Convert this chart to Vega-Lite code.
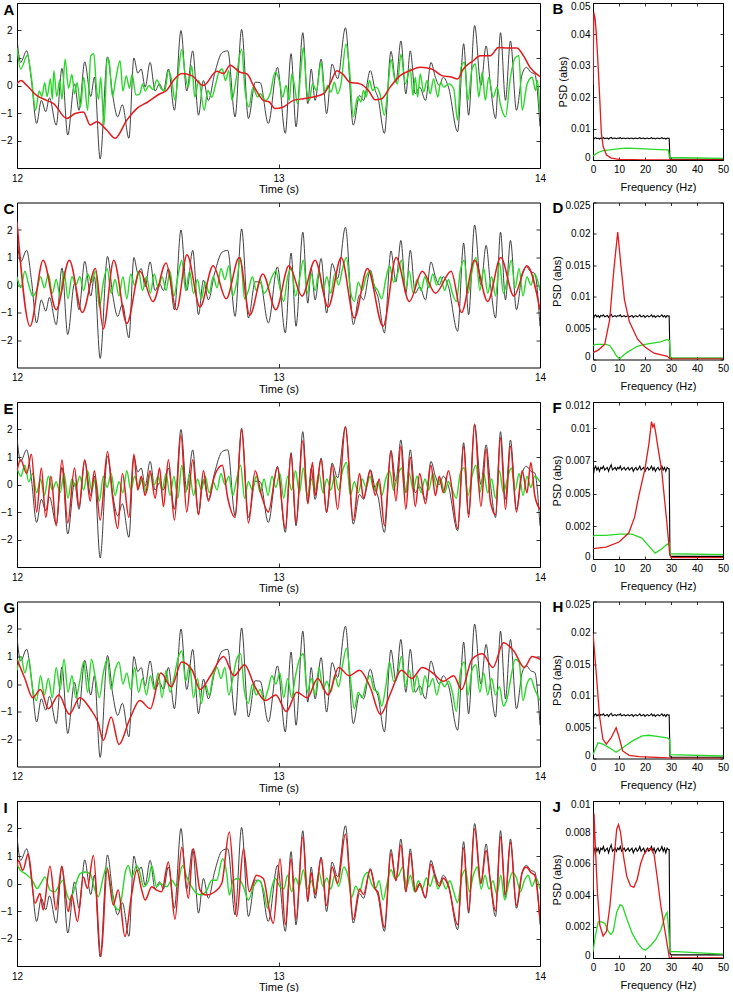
{
"$schema":"https://vega.github.io/schema/vega-lite/v6.json",
"padding":{"left":0,"top":0,"right":0,"bottom":0},
"background":"white",
"spacing":4.5,
"config":{"view":{"stroke":"#000","strokeWidth":1},"font":"Liberation Sans",
"axis":{"domain":false,"grid":false,"labelFlush":false,"labelOverlap":false,"labelFont":"Liberation Sans","labelFontSize":10,"labelColor":"#000","tickColor":"#000","tickWidth":0.8,"titleFont":"Liberation Sans","titleFontWeight":"normal","titleFontSize":11,"titleColor":"#000"}},
"datasets":{
"blk":[{"t":12.000,"v":1.71},{"t":12.014,"v":0.84},{"t":12.037,"v":1.26},{"t":12.055,"v":0.2},{"t":12.075,"v":-1.38},{"t":12.093,"v":-0.54},{"t":12.110,"v":-0.95},{"t":12.124,"v":-0.45},{"t":12.150,"v":-1.44},{"t":12.172,"v":0.62},{"t":12.194,"v":-1.80},{"t":12.220,"v":0.06},{"t":12.237,"v":-0.90},{"t":12.259,"v":0.86},{"t":12.282,"v":-0.40},{"t":12.296,"v":0.30},{"t":12.318,"v":-2.67},{"t":12.346,"v":1.04},{"t":12.366,"v":-0.36},{"t":12.385,"v":-1.14},{"t":12.403,"v":-0.70},{"t":12.428,"v":-1.92},{"t":12.447,"v":1.00},{"t":12.462,"v":0.45},{"t":12.475,"v":0.6},{"t":12.490,"v":-0.06},{"t":12.509,"v":0.84},{"t":12.528,"v":-0.2},{"t":12.545,"v":0.06},{"t":12.560,"v":-0.2},{"t":12.579,"v":0.60},{"t":12.602,"v":-0.90},{"t":12.627,"v":2.00},{"t":12.649,"v":-0.20},{"t":12.672,"v":1.26},{"t":12.694,"v":-1.08},{"t":12.713,"v":0.18},{"t":12.732,"v":-0.54},{"t":12.755,"v":0.40},{"t":12.785,"v":1.20},{"t":12.806,"v":1.26},{"t":12.834,"v":-1.14},{"t":12.859,"v":2.04},{"t":12.885,"v":-1.20},{"t":12.911,"v":0.12},{"t":12.930,"v":0.10},{"t":12.961,"v":-1.38},{"t":12.996,"v":0.66},{"t":13.026,"v":-1.74},{"t":13.048,"v":1.16},{"t":13.067,"v":-1.50},{"t":13.093,"v":1.92},{"t":13.112,"v":-0.66},{"t":13.125,"v":0.60},{"t":13.140,"v":-0.54},{"t":13.163,"v":0.96},{"t":13.184,"v":-1.02},{"t":13.205,"v":0.78},{"t":13.226,"v":0.24},{"t":13.256,"v":2.10},{"t":13.286,"v":-1.44},{"t":13.310,"v":-0.36},{"t":13.325,"v":-0.54},{"t":13.351,"v":0.54},{"t":13.370,"v":-0.18},{"t":13.380,"v":-0.42},{"t":13.405,"v":-1.74},{"t":13.430,"v":1.24},{"t":13.449,"v":0.12},{"t":13.468,"v":1.62},{"t":13.487,"v":-0.30},{"t":13.504,"v":1.26},{"t":13.523,"v":-0.30},{"t":13.540,"v":-0.06},{"t":13.562,"v":-0.54},{"t":13.583,"v":0.84},{"t":13.600,"v":0.30},{"t":13.615,"v":0.00},{"t":13.630,"v":0.30},{"t":13.650,"v":-0.06},{"t":13.685,"v":-1.68},{"t":13.708,"v":1.52},{"t":13.727,"v":-1.08},{"t":13.750,"v":2.18},{"t":13.774,"v":0.00},{"t":13.794,"v":1.44},{"t":13.810,"v":0.06},{"t":13.830,"v":-1.20},{"t":13.849,"v":1.92},{"t":13.868,"v":-0.54},{"t":13.887,"v":1.62},{"t":13.910,"v":-0.90},{"t":13.932,"v":0.42},{"t":13.948,"v":0.66},{"t":13.965,"v":0.48},{"t":13.980,"v":0.42},{"t":14.000,"v":-1.50}],
"gA":[{"t":12.000,"v":1.38},{"t":12.014,"v":0.6},{"t":12.040,"v":1.1},{"t":12.055,"v":0.3},{"t":12.071,"v":-0.9},{"t":12.085,"v":-0.2},{"t":12.095,"v":-0.4},{"t":12.106,"v":0.1},{"t":12.115,"v":-0.4},{"t":12.128,"v":0.25},{"t":12.135,"v":-0.5},{"t":12.141,"v":0.54},{"t":12.152,"v":-0.4},{"t":12.163,"v":0.2},{"t":12.172,"v":-0.5},{"t":12.184,"v":0.96},{"t":12.197,"v":-0.1},{"t":12.210,"v":0.4},{"t":12.220,"v":-0.3},{"t":12.230,"v":0.1},{"t":12.243,"v":-0.78},{"t":12.255,"v":0.3},{"t":12.270,"v":-0.9},{"t":12.282,"v":1.08},{"t":12.294,"v":1.16},{"t":12.303,"v":0.0},{"t":12.312,"v":-0.5},{"t":12.320,"v":0.3},{"t":12.333,"v":-1.44},{"t":12.345,"v":1.0},{"t":12.352,"v":0.9},{"t":12.365,"v":-0.4},{"t":12.377,"v":0.2},{"t":12.394,"v":0.9},{"t":12.405,"v":-0.2},{"t":12.418,"v":0.35},{"t":12.430,"v":-0.1},{"t":12.440,"v":0.4},{"t":12.455,"v":-0.35},{"t":12.470,"v":-0.3},{"t":12.480,"v":0.06},{"t":12.490,"v":-0.2},{"t":12.505,"v":0.0},{"t":12.520,"v":-0.15},{"t":12.535,"v":0.2},{"t":12.550,"v":-0.1},{"t":12.565,"v":-0.2},{"t":12.579,"v":0.54},{"t":12.592,"v":0.18},{"t":12.604,"v":-0.54},{"t":12.617,"v":0.48},{"t":12.630,"v":1.32},{"t":12.643,"v":0.4},{"t":12.655,"v":-0.06},{"t":12.668,"v":0.72},{"t":12.680,"v":-0.42},{"t":12.695,"v":0.18},{"t":12.716,"v":-0.9},{"t":12.730,"v":-0.18},{"t":12.745,"v":-0.42},{"t":12.760,"v":0.06},{"t":12.772,"v":0.48},{"t":12.785,"v":0.6},{"t":12.797,"v":0.18},{"t":12.810,"v":0.54},{"t":12.822,"v":-0.54},{"t":12.835,"v":0.06},{"t":12.859,"v":1.32},{"t":12.872,"v":-0.18},{"t":12.887,"v":-0.78},{"t":12.902,"v":-0.06},{"t":12.920,"v":-0.42},{"t":12.930,"v":-0.3},{"t":12.950,"v":-0.54},{"t":12.968,"v":-0.3},{"t":12.987,"v":0.48},{"t":13.003,"v":0.18},{"t":13.016,"v":-0.42},{"t":13.029,"v":0.0},{"t":13.041,"v":-0.54},{"t":13.051,"v":0.42},{"t":13.060,"v":0.06},{"t":13.073,"v":-0.66},{"t":13.085,"v":0.5},{"t":13.095,"v":1.38},{"t":13.108,"v":-0.18},{"t":13.118,"v":-0.54},{"t":13.130,"v":0.06},{"t":13.145,"v":-0.18},{"t":13.163,"v":0.84},{"t":13.176,"v":-0.3},{"t":13.188,"v":0.0},{"t":13.201,"v":-0.24},{"t":13.214,"v":0.12},{"t":13.226,"v":-0.3},{"t":13.239,"v":0.06},{"t":13.258,"v":1.5},{"t":13.271,"v":0.66},{"t":13.286,"v":-1.14},{"t":13.303,"v":-0.42},{"t":13.315,"v":-0.6},{"t":13.325,"v":-0.18},{"t":13.335,"v":-0.42},{"t":13.348,"v":0.18},{"t":13.360,"v":-0.18},{"t":13.373,"v":-0.06},{"t":13.388,"v":-0.3},{"t":13.405,"v":-1.08},{"t":13.421,"v":0.18},{"t":13.430,"v":0.96},{"t":13.443,"v":0.3},{"t":13.455,"v":0.06},{"t":13.468,"v":1.14},{"t":13.485,"v":0.06},{"t":13.504,"v":0.6},{"t":13.514,"v":-0.36},{"t":13.523,"v":0.3},{"t":13.532,"v":-0.42},{"t":13.542,"v":0.42},{"t":13.555,"v":-0.24},{"t":13.568,"v":0.18},{"t":13.580,"v":-0.3},{"t":13.593,"v":0.24},{"t":13.609,"v":-0.42},{"t":13.620,"v":0.12},{"t":13.632,"v":-0.06},{"t":13.651,"v":0.06},{"t":13.670,"v":-0.12},{"t":13.685,"v":-1.26},{"t":13.698,"v":0.66},{"t":13.711,"v":0.84},{"t":13.724,"v":-0.54},{"t":13.740,"v":0.6},{"t":13.753,"v":0.78},{"t":13.766,"v":-0.42},{"t":13.779,"v":0.48},{"t":13.791,"v":-0.54},{"t":13.804,"v":0.3},{"t":13.821,"v":-0.42},{"t":13.836,"v":-0.06},{"t":13.849,"v":-0.7},{"t":13.868,"v":-1.14},{"t":13.887,"v":0.3},{"t":13.906,"v":1.02},{"t":13.919,"v":1.08},{"t":13.932,"v":-0.9},{"t":13.951,"v":0.06},{"t":13.970,"v":0.3},{"t":13.983,"v":-0.18},{"t":13.990,"v":0.18},{"t":14.000,"v":-1.02}],
"rA":[{"t":12.000,"v":0.06},{"t":12.015,"v":0.18},{"t":12.038,"v":0.0},{"t":12.075,"v":-0.36},{"t":12.113,"v":-0.54},{"t":12.14,"v":-0.66},{"t":12.19,"v":-1.2},{"t":12.222,"v":-1.02},{"t":12.254,"v":-0.96},{"t":12.28,"v":-1.44},{"t":12.305,"v":-1.32},{"t":12.343,"v":-1.62},{"t":12.375,"v":-1.92},{"t":12.42,"v":-1.26},{"t":12.458,"v":-0.84},{"t":12.50,"v":-0.6},{"t":12.547,"v":-0.3},{"t":12.572,"v":-0.18},{"t":12.598,"v":0.18},{"t":12.63,"v":0.44},{"t":12.668,"v":0.36},{"t":12.713,"v":0.0},{"t":12.764,"v":0.52},{"t":12.79,"v":0.44},{"t":12.815,"v":0.74},{"t":12.853,"v":0.48},{"t":12.88,"v":0.42},{"t":12.904,"v":0.0},{"t":12.942,"v":-0.54},{"t":12.965,"v":-0.6},{"t":12.986,"v":-0.84},{"t":13.018,"v":-0.78},{"t":13.057,"v":-0.54},{"t":13.095,"v":-0.48},{"t":13.133,"v":-0.42},{"t":13.172,"v":-0.3},{"t":13.197,"v":0.06},{"t":13.223,"v":0.54},{"t":13.245,"v":0.42},{"t":13.273,"v":0.12},{"t":13.312,"v":0.06},{"t":13.344,"v":-0.18},{"t":13.37,"v":-0.52},{"t":13.395,"v":-0.48},{"t":13.427,"v":-0.06},{"t":13.465,"v":0.36},{"t":13.503,"v":0.54},{"t":13.542,"v":0.66},{"t":13.586,"v":0.6},{"t":13.625,"v":0.36},{"t":13.663,"v":0.3},{"t":13.685,"v":0.24},{"t":13.707,"v":0.6},{"t":13.745,"v":0.9},{"t":13.771,"v":1.08},{"t":13.81,"v":1.08},{"t":13.841,"v":1.38},{"t":13.875,"v":1.36},{"t":13.911,"v":1.36},{"t":13.937,"v":1.08},{"t":13.962,"v":0.66},{"t":14.0,"v":0.32}],
"gC":[{"t":12.0,"v":0.3},{"t":12.015,"v":-0.1},{"t":12.03,"v":0.5},{"t":12.045,"v":0.0},{"t":12.06,"v":-0.4},{"t":12.075,"v":-0.2},{"t":12.09,"v":0.3},{"t":12.105,"v":-0.1},{"t":12.12,"v":0.4},{"t":12.135,"v":-0.3},{"t":12.15,"v":0.2},{"t":12.165,"v":-0.4},{"t":12.18,"v":0.5},{"t":12.195,"v":-0.5},{"t":12.21,"v":0.3},{"t":12.225,"v":0.0},{"t":12.24,"v":0.3},{"t":12.255,"v":-0.2},{"t":12.27,"v":0.4},{"t":12.285,"v":0.1},{"t":12.30,"v":0.5},{"t":12.315,"v":-0.8},{"t":12.33,"v":0.1},{"t":12.345,"v":0.6},{"t":12.36,"v":-0.3},{"t":12.375,"v":0.2},{"t":12.39,"v":-0.4},{"t":12.405,"v":0.3},{"t":12.42,"v":-0.5},{"t":12.435,"v":0.4},{"t":12.45,"v":0.0},{"t":12.465,"v":0.5},{"t":12.48,"v":-0.2},{"t":12.495,"v":0.3},{"t":12.51,"v":-0.3},{"t":12.525,"v":0.4},{"t":12.54,"v":-0.1},{"t":12.555,"v":0.3},{"t":12.57,"v":-0.2},{"t":12.585,"v":0.5},{"t":12.60,"v":-0.4},{"t":12.615,"v":0.3},{"t":12.63,"v":0.9},{"t":12.645,"v":-0.2},{"t":12.66,"v":0.5},{"t":12.675,"v":-0.3},{"t":12.69,"v":0.2},{"t":12.705,"v":-0.5},{"t":12.72,"v":0.1},{"t":12.735,"v":-0.3},{"t":12.75,"v":0.3},{"t":12.765,"v":-0.1},{"t":12.78,"v":0.6},{"t":12.795,"v":0.2},{"t":12.81,"v":0.7},{"t":12.825,"v":-0.4},{"t":12.84,"v":0.1},{"t":12.855,"v":1.0},{"t":12.87,"v":-0.5},{"t":12.885,"v":-0.2},{"t":12.90,"v":0.3},{"t":12.915,"v":-0.2},{"t":12.93,"v":0.2},{"t":12.945,"v":-0.3},{"t":12.96,"v":-0.1},{"t":12.975,"v":0.3},{"t":12.99,"v":0.5},{"t":13.005,"v":-0.1},{"t":13.02,"v":-0.6},{"t":13.035,"v":0.3},{"t":13.05,"v":0.6},{"t":13.065,"v":-0.4},{"t":13.08,"v":0.2},{"t":13.095,"v":0.9},{"t":13.11,"v":-0.3},{"t":13.125,"v":0.4},{"t":13.14,"v":-0.2},{"t":13.155,"v":0.5},{"t":13.17,"v":-0.2},{"t":13.185,"v":0.3},{"t":13.20,"v":-0.3},{"t":13.215,"v":0.4},{"t":13.23,"v":0.0},{"t":13.245,"v":0.6},{"t":13.26,"v":1.0},{"t":13.275,"v":-0.2},{"t":13.29,"v":-0.6},{"t":13.305,"v":0.1},{"t":13.32,"v":-0.2},{"t":13.335,"v":0.3},{"t":13.35,"v":0.5},{"t":13.365,"v":0.0},{"t":13.38,"v":-0.2},{"t":13.395,"v":-0.5},{"t":13.41,"v":0.2},{"t":13.425,"v":0.7},{"t":13.44,"v":0.1},{"t":13.455,"v":0.4},{"t":13.47,"v":0.9},{"t":13.485,"v":-0.2},{"t":13.50,"v":0.5},{"t":13.515,"v":-0.3},{"t":13.53,"v":0.2},{"t":13.545,"v":-0.2},{"t":13.56,"v":0.3},{"t":13.575,"v":-0.1},{"t":13.59,"v":0.4},{"t":13.605,"v":0.0},{"t":13.62,"v":0.3},{"t":13.635,"v":-0.2},{"t":13.65,"v":0.2},{"t":13.665,"v":-0.3},{"t":13.68,"v":-0.6},{"t":13.695,"v":0.5},{"t":13.71,"v":0.9},{"t":13.725,"v":-0.3},{"t":13.74,"v":0.5},{"t":13.755,"v":1.0},{"t":13.77,"v":-0.2},{"t":13.785,"v":0.6},{"t":13.80,"v":-0.3},{"t":13.815,"v":0.3},{"t":13.83,"v":-0.4},{"t":13.845,"v":0.8},{"t":13.86,"v":-0.3},{"t":13.875,"v":0.2},{"t":13.89,"v":0.9},{"t":13.905,"v":-0.1},{"t":13.92,"v":0.6},{"t":13.935,"v":-0.4},{"t":13.95,"v":0.3},{"t":13.965,"v":0.0},{"t":13.98,"v":0.4},{"t":14.0,"v":-0.2}],
"rC":[{"t":12.0,"v":2.3},{"t":12.05,"v":-1.5},{"t":12.10,"v":0.9},{"t":12.15,"v":-0.9},{"t":12.20,"v":0.9},{"t":12.25,"v":-1.0},{"t":12.30,"v":0.6},{"t":12.33,"v":-1.6},{"t":12.37,"v":0.9},{"t":12.42,"v":-1.4},{"t":12.47,"v":0.5},{"t":12.52,"v":-0.6},{"t":12.57,"v":0.8},{"t":12.61,"v":-0.9},{"t":12.65,"v":1.1},{"t":12.70,"v":-0.8},{"t":12.75,"v":0.7},{"t":12.80,"v":-0.5},{"t":12.85,"v":1.0},{"t":12.89,"v":-1.1},{"t":12.94,"v":0.4},{"t":12.99,"v":-0.9},{"t":13.04,"v":0.7},{"t":13.09,"v":-0.4},{"t":13.14,"v":0.9},{"t":13.19,"v":-0.8},{"t":13.24,"v":1.0},{"t":13.29,"v":-1.2},{"t":13.34,"v":0.6},{"t":13.40,"v":-1.5},{"t":13.45,"v":1.0},{"t":13.50,"v":-0.6},{"t":13.55,"v":0.5},{"t":13.60,"v":-0.3},{"t":13.66,"v":0.5},{"t":13.70,"v":-1.0},{"t":13.75,"v":0.9},{"t":13.80,"v":-0.6},{"t":13.85,"v":1.0},{"t":13.90,"v":-0.4},{"t":13.95,"v":0.7},{"t":14.0,"v":-0.9}],
"gE":[{"t":12.0,"v":0.6},{"t":12.015,"v":0.3},{"t":12.03,"v":0.7},{"t":12.045,"v":0.1},{"t":12.06,"v":0.4},{"t":12.075,"v":-0.3},{"t":12.09,"v":0.2},{"t":12.105,"v":-0.4},{"t":12.12,"v":0.3},{"t":12.135,"v":-0.2},{"t":12.15,"v":0.1},{"t":12.165,"v":-0.3},{"t":12.18,"v":0.4},{"t":12.195,"v":-0.5},{"t":12.21,"v":0.2},{"t":12.225,"v":-0.1},{"t":12.24,"v":0.3},{"t":12.255,"v":-0.2},{"t":12.27,"v":0.5},{"t":12.285,"v":-0.2},{"t":12.30,"v":0.2},{"t":12.315,"v":-0.6},{"t":12.33,"v":0.3},{"t":12.345,"v":-0.1},{"t":12.36,"v":0.4},{"t":12.375,"v":-0.4},{"t":12.39,"v":0.1},{"t":12.405,"v":-0.3},{"t":12.42,"v":0.5},{"t":12.435,"v":-0.2},{"t":12.45,"v":0.3},{"t":12.465,"v":-0.1},{"t":12.48,"v":0.2},{"t":12.495,"v":-0.3},{"t":12.51,"v":0.4},{"t":12.525,"v":0.0},{"t":12.54,"v":0.3},{"t":12.555,"v":-0.2},{"t":12.57,"v":0.4},{"t":12.585,"v":-0.4},{"t":12.60,"v":0.3},{"t":12.615,"v":-0.5},{"t":12.63,"v":0.7},{"t":12.645,"v":-0.3},{"t":12.66,"v":0.4},{"t":12.675,"v":-0.4},{"t":12.69,"v":0.2},{"t":12.705,"v":-0.2},{"t":12.72,"v":0.3},{"t":12.735,"v":-0.3},{"t":12.75,"v":0.1},{"t":12.765,"v":-0.2},{"t":12.78,"v":0.4},{"t":12.795,"v":0.0},{"t":12.81,"v":0.3},{"t":12.825,"v":-0.4},{"t":12.84,"v":0.2},{"t":12.855,"v":0.7},{"t":12.87,"v":-0.5},{"t":12.885,"v":0.1},{"t":12.90,"v":-0.2},{"t":12.915,"v":0.3},{"t":12.93,"v":-0.3},{"t":12.945,"v":0.2},{"t":12.96,"v":-0.4},{"t":12.975,"v":0.3},{"t":12.99,"v":-0.1},{"t":13.005,"v":0.4},{"t":13.02,"v":-0.5},{"t":13.035,"v":0.3},{"t":13.05,"v":-0.2},{"t":13.065,"v":0.5},{"t":13.08,"v":-0.3},{"t":13.095,"v":0.6},{"t":13.11,"v":-0.4},{"t":13.125,"v":0.2},{"t":13.14,"v":-0.2},{"t":13.155,"v":0.4},{"t":13.17,"v":-0.3},{"t":13.185,"v":0.2},{"t":13.20,"v":-0.2},{"t":13.215,"v":0.3},{"t":13.23,"v":-0.2},{"t":13.245,"v":0.5},{"t":13.26,"v":0.8},{"t":13.275,"v":-0.4},{"t":13.29,"v":0.1},{"t":13.305,"v":-0.3},{"t":13.32,"v":0.2},{"t":13.335,"v":-0.1},{"t":13.35,"v":0.3},{"t":13.365,"v":-0.2},{"t":13.38,"v":0.1},{"t":13.395,"v":-0.4},{"t":13.41,"v":0.2},{"t":13.425,"v":0.5},{"t":13.44,"v":-0.2},{"t":13.455,"v":0.3},{"t":13.47,"v":0.6},{"t":13.485,"v":-0.3},{"t":13.50,"v":0.4},{"t":13.515,"v":-0.2},{"t":13.53,"v":0.3},{"t":13.545,"v":-0.3},{"t":13.56,"v":0.2},{"t":13.575,"v":-0.2},{"t":13.59,"v":0.4},{"t":13.605,"v":-0.1},{"t":13.62,"v":0.2},{"t":13.635,"v":-0.3},{"t":13.65,"v":0.1},{"t":13.665,"v":-0.2},{"t":13.68,"v":-0.5},{"t":13.695,"v":0.4},{"t":13.71,"v":0.6},{"t":13.725,"v":-0.4},{"t":13.74,"v":0.3},{"t":13.755,"v":0.7},{"t":13.77,"v":-0.3},{"t":13.785,"v":0.4},{"t":13.80,"v":-0.3},{"t":13.815,"v":0.2},{"t":13.83,"v":-0.5},{"t":13.845,"v":0.5},{"t":13.86,"v":-0.3},{"t":13.875,"v":0.2},{"t":13.89,"v":0.6},{"t":13.905,"v":-0.2},{"t":13.92,"v":0.4},{"t":13.935,"v":-0.4},{"t":13.95,"v":0.3},{"t":13.965,"v":-0.1},{"t":13.98,"v":0.3},{"t":14.0,"v":0.1}],
"rE":[{"t":12.000,"v":0.5},{"t":12.014,"v":0.9},{"t":12.037,"v":0.4},{"t":12.055,"v":1.1},{"t":12.075,"v":-1.0},{"t":12.093,"v":0.6},{"t":12.110,"v":-1.2},{"t":12.13,"v":0.3},{"t":12.150,"v":-1.5},{"t":12.172,"v":0.9},{"t":12.194,"v":-1.4},{"t":12.22,"v":0.6},{"t":12.237,"v":-0.8},{"t":12.259,"v":0.9},{"t":12.28,"v":-0.6},{"t":12.296,"v":0.5},{"t":12.318,"v":-1.3},{"t":12.346,"v":1.2},{"t":12.366,"v":-0.5},{"t":12.385,"v":-1.6},{"t":12.403,"v":0.4},{"t":12.428,"v":-1.2},{"t":12.447,"v":1.1},{"t":12.462,"v":-0.2},{"t":12.475,"v":0.3},{"t":12.49,"v":-0.4},{"t":12.509,"v":0.5},{"t":12.528,"v":-0.5},{"t":12.545,"v":0.6},{"t":12.56,"v":-0.8},{"t":12.579,"v":0.9},{"t":12.602,"v":-1.3},{"t":12.627,"v":1.8},{"t":12.649,"v":-1.0},{"t":12.672,"v":0.9},{"t":12.694,"v":-1.1},{"t":12.713,"v":0.5},{"t":12.732,"v":-0.6},{"t":12.755,"v":0.3},{"t":12.785,"v":0.7},{"t":12.806,"v":-0.5},{"t":12.834,"v":-1.2},{"t":12.859,"v":2.0},{"t":12.885,"v":-1.4},{"t":12.911,"v":0.5},{"t":12.935,"v":-0.4},{"t":12.961,"v":-1.0},{"t":12.996,"v":0.6},{"t":13.026,"v":-1.6},{"t":13.048,"v":1.1},{"t":13.067,"v":-1.4},{"t":13.093,"v":1.6},{"t":13.112,"v":-0.7},{"t":13.13,"v":0.8},{"t":13.14,"v":-0.4},{"t":13.163,"v":0.9},{"t":13.184,"v":-1.0},{"t":13.205,"v":0.7},{"t":13.226,"v":-0.9},{"t":13.256,"v":2.1},{"t":13.286,"v":-1.3},{"t":13.31,"v":0.4},{"t":13.325,"v":-0.5},{"t":13.351,"v":0.5},{"t":13.37,"v":-0.4},{"t":13.385,"v":0.2},{"t":13.405,"v":-1.5},{"t":13.43,"v":1.2},{"t":13.449,"v":-0.6},{"t":13.468,"v":1.4},{"t":13.487,"v":-0.9},{"t":13.504,"v":1.0},{"t":13.523,"v":-0.8},{"t":13.54,"v":0.4},{"t":13.562,"v":-0.7},{"t":13.583,"v":0.7},{"t":13.60,"v":-0.4},{"t":13.615,"v":0.3},{"t":13.63,"v":-0.3},{"t":13.65,"v":0.5},{"t":13.685,"v":-1.6},{"t":13.708,"v":1.4},{"t":13.727,"v":-1.2},{"t":13.750,"v":2.2},{"t":13.774,"v":-0.8},{"t":13.794,"v":1.3},{"t":13.81,"v":-0.6},{"t":13.830,"v":-1.1},{"t":13.849,"v":1.7},{"t":13.868,"v":-0.9},{"t":13.887,"v":1.4},{"t":13.91,"v":-1.0},{"t":13.932,"v":0.5},{"t":13.95,"v":-0.3},{"t":13.965,"v":0.8},{"t":13.98,"v":-0.4},{"t":14.0,"v":-0.9}],
"gG":[{"t":12.0,"v":0.5},{"t":12.015,"v":1.0},{"t":12.03,"v":0.4},{"t":12.045,"v":0.9},{"t":12.06,"v":-0.2},{"t":12.075,"v":-0.6},{"t":12.09,"v":0.3},{"t":12.105,"v":-0.4},{"t":12.12,"v":0.2},{"t":12.135,"v":-0.5},{"t":12.15,"v":0.6},{"t":12.165,"v":-0.2},{"t":12.18,"v":0.9},{"t":12.195,"v":-0.3},{"t":12.21,"v":0.3},{"t":12.225,"v":-0.5},{"t":12.24,"v":0.1},{"t":12.255,"v":0.8},{"t":12.27,"v":-0.3},{"t":12.285,"v":0.9},{"t":12.30,"v":0.2},{"t":12.315,"v":-0.5},{"t":12.33,"v":0.4},{"t":12.345,"v":0.9},{"t":12.36,"v":-0.2},{"t":12.375,"v":0.5},{"t":12.39,"v":0.8},{"t":12.405,"v":0.0},{"t":12.42,"v":0.4},{"t":12.435,"v":-0.2},{"t":12.45,"v":0.6},{"t":12.465,"v":-0.3},{"t":12.48,"v":0.2},{"t":12.495,"v":-0.4},{"t":12.51,"v":0.3},{"t":12.525,"v":-0.2},{"t":12.54,"v":0.4},{"t":12.555,"v":-0.5},{"t":12.57,"v":0.5},{"t":12.585,"v":-0.3},{"t":12.60,"v":0.2},{"t":12.615,"v":0.9},{"t":12.63,"v":1.2},{"t":12.645,"v":0.1},{"t":12.66,"v":0.7},{"t":12.675,"v":-0.5},{"t":12.69,"v":0.2},{"t":12.705,"v":-0.7},{"t":12.72,"v":0.0},{"t":12.735,"v":-0.4},{"t":12.75,"v":0.3},{"t":12.765,"v":0.6},{"t":12.78,"v":0.2},{"t":12.795,"v":0.6},{"t":12.81,"v":-0.4},{"t":12.825,"v":0.2},{"t":12.84,"v":0.9},{"t":12.855,"v":1.1},{"t":12.87,"v":-0.3},{"t":12.885,"v":-0.7},{"t":12.90,"v":0.0},{"t":12.915,"v":-0.4},{"t":12.93,"v":-0.2},{"t":12.945,"v":-0.6},{"t":12.96,"v":-0.2},{"t":12.975,"v":0.3},{"t":12.99,"v":0.0},{"t":13.005,"v":0.4},{"t":13.02,"v":-0.5},{"t":13.035,"v":0.2},{"t":13.05,"v":-0.5},{"t":13.065,"v":0.3},{"t":13.08,"v":0.9},{"t":13.095,"v":1.1},{"t":13.11,"v":-0.3},{"t":13.125,"v":0.2},{"t":13.14,"v":-0.4},{"t":13.155,"v":0.6},{"t":13.17,"v":-0.2},{"t":13.185,"v":0.1},{"t":13.20,"v":-0.3},{"t":13.215,"v":0.3},{"t":13.23,"v":-0.1},{"t":13.245,"v":0.7},{"t":13.26,"v":1.3},{"t":13.275,"v":0.2},{"t":13.29,"v":-0.9},{"t":13.305,"v":-0.3},{"t":13.32,"v":-0.5},{"t":13.335,"v":0.0},{"t":13.35,"v":0.3},{"t":13.365,"v":-0.2},{"t":13.38,"v":-0.3},{"t":13.395,"v":-0.8},{"t":13.41,"v":-0.1},{"t":13.425,"v":0.8},{"t":13.44,"v":0.1},{"t":13.455,"v":0.3},{"t":13.47,"v":1.0},{"t":13.485,"v":-0.1},{"t":13.50,"v":0.5},{"t":13.515,"v":-0.3},{"t":13.53,"v":0.3},{"t":13.545,"v":-0.4},{"t":13.56,"v":0.3},{"t":13.575,"v":-0.1},{"t":13.59,"v":0.2},{"t":13.605,"v":-0.4},{"t":13.62,"v":0.1},{"t":13.635,"v":-0.1},{"t":13.65,"v":0.1},{"t":13.665,"v":-0.3},{"t":13.68,"v":-1.0},{"t":13.695,"v":0.4},{"t":13.71,"v":0.8},{"t":13.725,"v":-0.4},{"t":13.74,"v":0.5},{"t":13.755,"v":0.7},{"t":13.77,"v":-0.3},{"t":13.785,"v":0.4},{"t":13.80,"v":-0.4},{"t":13.815,"v":0.2},{"t":13.83,"v":-0.4},{"t":13.845,"v":-0.1},{"t":13.86,"v":-0.8},{"t":13.875,"v":-0.5},{"t":13.89,"v":0.3},{"t":13.905,"v":0.9},{"t":13.92,"v":0.8},{"t":13.935,"v":-0.6},{"t":13.95,"v":0.0},{"t":13.965,"v":0.2},{"t":13.98,"v":-0.2},{"t":14.0,"v":-0.6}],
"rG":[{"t":12.0,"v":0.9},{"t":12.03,"v":0.2},{"t":12.06,"v":-0.5},{"t":12.09,"v":-0.2},{"t":12.12,"v":-0.9},{"t":12.16,"v":-0.4},{"t":12.20,"v":-1.1},{"t":12.24,"v":-0.5},{"t":12.28,"v":-0.9},{"t":12.31,"v":-1.4},{"t":12.33,"v":-2.05},{"t":12.36,"v":-1.2},{"t":12.39,"v":-2.2},{"t":12.43,"v":-1.3},{"t":12.47,"v":-0.6},{"t":12.51,"v":-0.9},{"t":12.55,"v":0.4},{"t":12.59,"v":-0.1},{"t":12.63,"v":0.8},{"t":12.67,"v":0.5},{"t":12.70,"v":-0.2},{"t":12.74,"v":0.3},{"t":12.79,"v":1.0},{"t":12.83,"v":0.3},{"t":12.87,"v":0.7},{"t":12.91,"v":-0.1},{"t":12.95,"v":-0.6},{"t":12.99,"v":-0.4},{"t":13.03,"v":-1.0},{"t":13.07,"v":-0.3},{"t":13.11,"v":-0.5},{"t":13.15,"v":0.2},{"t":13.19,"v":-0.4},{"t":13.23,"v":0.6},{"t":13.27,"v":0.3},{"t":13.31,"v":0.5},{"t":13.35,"v":-0.1},{"t":13.39,"v":-1.1},{"t":13.43,"v":-0.3},{"t":13.47,"v":0.5},{"t":13.51,"v":0.2},{"t":13.55,"v":0.6},{"t":13.59,"v":0.4},{"t":13.63,"v":0.1},{"t":13.67,"v":0.3},{"t":13.70,"v":-0.2},{"t":13.74,"v":0.9},{"t":13.78,"v":1.1},{"t":13.82,"v":0.6},{"t":13.86,"v":1.5},{"t":13.90,"v":1.2},{"t":13.94,"v":0.6},{"t":13.97,"v":1.0},{"t":14.0,"v":0.9}],
"gI":[{"t":12.0,"v":0.72},{"t":12.013,"v":0.48},{"t":12.032,"v":0.36},{"t":12.058,"v":0.12},{"t":12.077,"v":-0.18},{"t":12.094,"v":0.06},{"t":12.107,"v":0.24},{"t":12.126,"v":-0.24},{"t":12.145,"v":-0.3},{"t":12.164,"v":0.0},{"t":12.177,"v":0.12},{"t":12.19,"v":-0.36},{"t":12.203,"v":-0.6},{"t":12.222,"v":-0.12},{"t":12.241,"v":0.36},{"t":12.26,"v":0.42},{"t":12.28,"v":0.36},{"t":12.298,"v":-0.24},{"t":12.311,"v":-0.48},{"t":12.33,"v":0.24},{"t":12.343,"v":0.6},{"t":12.356,"v":0.0},{"t":12.375,"v":-0.84},{"t":12.388,"v":-0.96},{"t":12.401,"v":-0.48},{"t":12.413,"v":0.36},{"t":12.426,"v":0.66},{"t":12.439,"v":0.24},{"t":12.458,"v":0.66},{"t":12.471,"v":0.36},{"t":12.484,"v":-0.12},{"t":12.503,"v":0.12},{"t":12.515,"v":0.66},{"t":12.534,"v":-0.12},{"t":12.547,"v":0.0},{"t":12.573,"v":-0.12},{"t":12.592,"v":0.12},{"t":12.611,"v":-0.12},{"t":12.633,"v":0.66},{"t":12.649,"v":0.24},{"t":12.668,"v":-0.12},{"t":12.687,"v":-0.36},{"t":12.706,"v":-0.42},{"t":12.726,"v":-0.24},{"t":12.745,"v":0.12},{"t":12.764,"v":0.12},{"t":12.786,"v":0.9},{"t":12.802,"v":0.36},{"t":12.812,"v":-0.42},{"t":12.827,"v":0.12},{"t":12.846,"v":0.18},{"t":12.866,"v":-0.12},{"t":12.885,"v":-0.6},{"t":12.904,"v":-0.12},{"t":12.923,"v":0.12},{"t":12.943,"v":-0.24},{"t":12.958,"v":-0.9},{"t":12.975,"v":-0.12},{"t":12.987,"v":0.18},{"t":13.006,"v":-0.12},{"t":13.02,"v":-0.2},{"t":13.035,"v":0.3},{"t":13.05,"v":-0.3},{"t":13.065,"v":0.2},{"t":13.08,"v":-0.1},{"t":13.095,"v":0.5},{"t":13.11,"v":-0.2},{"t":13.125,"v":0.1},{"t":13.14,"v":-0.3},{"t":13.155,"v":0.4},{"t":13.17,"v":-0.1},{"t":13.185,"v":0.2},{"t":13.20,"v":-0.2},{"t":13.215,"v":0.3},{"t":13.23,"v":-0.1},{"t":13.25,"v":0.6},{"t":13.265,"v":0.3},{"t":13.28,"v":-0.5},{"t":13.295,"v":-0.1},{"t":13.31,"v":-0.3},{"t":13.325,"v":0.2},{"t":13.34,"v":0.4},{"t":13.355,"v":0.0},{"t":13.37,"v":-0.2},{"t":13.385,"v":0.1},{"t":13.40,"v":-0.6},{"t":13.415,"v":0.0},{"t":13.43,"v":0.5},{"t":13.445,"v":0.2},{"t":13.46,"v":0.3},{"t":13.475,"v":0.6},{"t":13.49,"v":-0.1},{"t":13.505,"v":0.3},{"t":13.52,"v":-0.3},{"t":13.535,"v":0.1},{"t":13.55,"v":-0.2},{"t":13.565,"v":0.2},{"t":13.58,"v":-0.1},{"t":13.595,"v":0.3},{"t":13.61,"v":-0.2},{"t":13.625,"v":0.1},{"t":13.64,"v":-0.2},{"t":13.655,"v":0.1},{"t":13.67,"v":-0.3},{"t":13.685,"v":-0.7},{"t":13.70,"v":0.2},{"t":13.715,"v":0.5},{"t":13.73,"v":-0.3},{"t":13.745,"v":0.3},{"t":13.76,"v":0.6},{"t":13.775,"v":-0.2},{"t":13.79,"v":0.3},{"t":13.805,"v":-0.2},{"t":13.82,"v":0.1},{"t":13.835,"v":-0.4},{"t":13.85,"v":0.3},{"t":13.865,"v":-0.6},{"t":13.88,"v":0.0},{"t":13.895,"v":0.4},{"t":13.91,"v":0.2},{"t":13.925,"v":-0.3},{"t":13.94,"v":0.1},{"t":13.955,"v":0.3},{"t":13.97,"v":-0.1},{"t":13.985,"v":0.2},{"t":14.0,"v":-0.2}],
"rI":[{"t":12.0,"v":0.6},{"t":12.005,"v":0.85},{"t":12.022,"v":0.48},{"t":12.043,"v":1.08},{"t":12.069,"v":-0.72},{"t":12.088,"v":-0.36},{"t":12.1,"v":-0.96},{"t":12.126,"v":0.63},{"t":12.149,"v":-0.96},{"t":12.171,"v":0.63},{"t":12.196,"v":-1.02},{"t":12.209,"v":-0.42},{"t":12.231,"v":-1.38},{"t":12.254,"v":0.24},{"t":12.269,"v":-0.18},{"t":12.292,"v":1.02},{"t":12.321,"v":-2.65},{"t":12.345,"v":0.55},{"t":12.368,"v":-0.78},{"t":12.387,"v":-0.24},{"t":12.413,"v":-1.93},{"t":12.438,"v":-0.42},{"t":12.458,"v":0.48},{"t":12.477,"v":-0.24},{"t":12.49,"v":-0.6},{"t":12.515,"v":-0.12},{"t":12.534,"v":-0.24},{"t":12.553,"v":-0.3},{"t":12.579,"v":0.78},{"t":12.604,"v":-1.3},{"t":12.63,"v":1.32},{"t":12.655,"v":-0.54},{"t":12.674,"v":1.26},{"t":12.7,"v":-0.24},{"t":12.723,"v":-0.42},{"t":12.757,"v":-0.3},{"t":12.783,"v":0.0},{"t":12.812,"v":1.87},{"t":12.84,"v":-1.2},{"t":12.866,"v":1.26},{"t":12.888,"v":-0.3},{"t":12.916,"v":0.3},{"t":12.942,"v":0.18},{"t":12.967,"v":-1.08},{"t":12.98,"v":-1.45},{"t":13.006,"v":0.9},{"t":13.026,"v":-1.5},{"t":13.048,"v":0.9},{"t":13.067,"v":-1.3},{"t":13.093,"v":1.7},{"t":13.112,"v":-0.6},{"t":13.125,"v":0.4},{"t":13.14,"v":-0.4},{"t":13.163,"v":0.9},{"t":13.184,"v":-0.8},{"t":13.205,"v":0.6},{"t":13.226,"v":0.0},{"t":13.256,"v":1.8},{"t":13.286,"v":-1.3},{"t":13.31,"v":-0.2},{"t":13.325,"v":-0.4},{"t":13.351,"v":0.5},{"t":13.37,"v":-0.2},{"t":13.38,"v":-0.3},{"t":13.405,"v":-1.6},{"t":13.43,"v":1.1},{"t":13.449,"v":0.1},{"t":13.468,"v":1.4},{"t":13.487,"v":-0.3},{"t":13.504,"v":1.1},{"t":13.523,"v":-0.3},{"t":13.54,"v":0.0},{"t":13.562,"v":-0.5},{"t":13.583,"v":0.7},{"t":13.60,"v":0.2},{"t":13.615,"v":-0.1},{"t":13.63,"v":0.2},{"t":13.65,"v":-0.1},{"t":13.685,"v":-1.5},{"t":13.708,"v":1.3},{"t":13.727,"v":-1.0},{"t":13.75,"v":2.0},{"t":13.774,"v":0.0},{"t":13.794,"v":1.2},{"t":13.81,"v":0.1},{"t":13.83,"v":-1.0},{"t":13.849,"v":1.7},{"t":13.868,"v":-0.4},{"t":13.887,"v":1.5},{"t":13.91,"v":-0.8},{"t":13.932,"v":0.4},{"t":13.948,"v":0.6},{"t":13.965,"v":0.4},{"t":13.98,"v":0.3},{"t":14.0,"v":-1.3}],
"pk":[{"f":0,"p":0.0062},{"f":0.5,"p":0.0069},{"f":1,"p":0.0071},{"f":1.5,"p":0.0068},{"f":2,"p":0.007},{"f":2.5,"p":0.0067},{"f":3,"p":0.007},{"f":3.5,"p":0.0069},{"f":4,"p":0.0071},{"f":4.5,"p":0.0068},{"f":5,"p":0.0069},{"f":5.5,"p":0.007},{"f":6,"p":0.0067},{"f":6.5,"p":0.007},{"f":7,"p":0.0072},{"f":7.5,"p":0.0068},{"f":8,"p":0.0069},{"f":8.5,"p":0.007},{"f":9,"p":0.0068},{"f":9.5,"p":0.007},{"f":10,"p":0.0069},{"f":10.5,"p":0.0071},{"f":11,"p":0.0068},{"f":11.5,"p":0.0069},{"f":12,"p":0.007},{"f":12.5,"p":0.0068},{"f":13,"p":0.0069},{"f":13.5,"p":0.007},{"f":14,"p":0.0068},{"f":14.5,"p":0.0069},{"f":15,"p":0.007},{"f":15.5,"p":0.0067},{"f":16,"p":0.0069},{"f":16.5,"p":0.007},{"f":17,"p":0.0068},{"f":17.5,"p":0.0069},{"f":18,"p":0.0071},{"f":18.5,"p":0.0068},{"f":19,"p":0.0069},{"f":19.5,"p":0.007},{"f":20,"p":0.0067},{"f":20.5,"p":0.0069},{"f":21,"p":0.007},{"f":21.5,"p":0.0068},{"f":22,"p":0.0069},{"f":22.5,"p":0.0071},{"f":23,"p":0.0068},{"f":23.5,"p":0.007},{"f":24,"p":0.0067},{"f":24.5,"p":0.0069},{"f":25,"p":0.007},{"f":25.5,"p":0.0068},{"f":26,"p":0.0069},{"f":26.5,"p":0.0071},{"f":27,"p":0.0068},{"f":27.5,"p":0.007},{"f":28,"p":0.0067},{"f":28.5,"p":0.007},{"f":29,"p":0.0069},{"f":29.3,"p":0.0069},{"f":29.6,"p":0.0003},{"f":30,"p":0.0002},{"f":40,"p":0.0002},{"f":50,"p":0.0002}],
"gB":[{"f":0,"p":0.0013},{"f":1.9,"p":0.0024},{"f":3.9,"p":0.003},{"f":6.4,"p":0.0032},{"f":10.3,"p":0.0036},{"f":12.9,"p":0.0038},{"f":18,"p":0.0036},{"f":23.2,"p":0.0034},{"f":29,"p":0.0032},{"f":29.4,"p":0.0008},{"f":50,"p":0.0005}],
"rB":[{"f":0,"p":0.024},{"f":0.3,"p":0.047},{"f":0.8,"p":0.045},{"f":1.3,"p":0.04},{"f":1.9,"p":0.031},{"f":2.6,"p":0.0195},{"f":3.2,"p":0.0087},{"f":3.9,"p":0.0043},{"f":5.2,"p":0.0016},{"f":7,"p":0.0006},{"f":10,"p":0.0002},{"f":20,"p":0.00005},{"f":30,"p":0},{"f":50,"p":0}],
"gD":[{"f":0,"p":0.0022},{"f":1,"p":0.0024},{"f":5,"p":0.0024},{"f":6.5,"p":0.0022},{"f":8,"p":0.0013},{"f":9,"p":0.0006},{"f":10.2,"p":0.0001},{"f":11.5,"p":0.0006},{"f":13,"p":0.0011},{"f":15,"p":0.0016},{"f":17,"p":0.0021},{"f":20,"p":0.0024},{"f":23,"p":0.0026},{"f":26,"p":0.0028},{"f":28.6,"p":0.0032},{"f":29.4,"p":0.003},{"f":29.8,"p":0.0002},{"f":50,"p":0.0002}],
"rD":[{"f":0,"p":0.0011},{"f":2,"p":0.0015},{"f":4.5,"p":0.0024},{"f":6.4,"p":0.0063},{"f":8,"p":0.0142},{"f":9.5,"p":0.0203},{"f":10.8,"p":0.0147},{"f":12.1,"p":0.0095},{"f":14,"p":0.006},{"f":17.2,"p":0.0032},{"f":20,"p":0.002},{"f":23.5,"p":0.001},{"f":28.6,"p":0.0005},{"f":29.6,"p":0.0001},{"f":50,"p":0.0001}],
"gF":[{"f":0,"p":0.0017},{"f":0.5,"p":0.0018},{"f":5,"p":0.0018},{"f":10,"p":0.0019},{"f":15,"p":0.0019},{"f":18.8,"p":0.0016},{"f":21.4,"p":0.001},{"f":23.9,"p":0.00045},{"f":26.4,"p":0.00076},{"f":28.3,"p":0.0011},{"f":29.3,"p":0.0012},{"f":29.8,"p":0.0004},{"f":50,"p":0.00033}],
"rF":[{"f":0,"p":0.0008},{"f":5,"p":0.0009},{"f":10,"p":0.0013},{"f":13.8,"p":0.002},{"f":16,"p":0.0032},{"f":17.6,"p":0.0048},{"f":20,"p":0.0069},{"f":21.5,"p":0.0088},{"f":22.5,"p":0.0105},{"f":23,"p":0.0101},{"f":23.5,"p":0.0103},{"f":24,"p":0.0098},{"f":25,"p":0.0085},{"f":26.4,"p":0.0068},{"f":28.3,"p":0.003},{"f":29.5,"p":0.0004},{"f":30,"p":0.0001},{"f":50,"p":0.0001}],
"gH":[{"f":0,"p":0.0006},{"f":1.9,"p":0.0025},{"f":3.8,"p":0.0023},{"f":6.3,"p":0.0017},{"f":8.9,"p":0.001},{"f":11.4,"p":0.0017},{"f":15.2,"p":0.0028},{"f":19,"p":0.0036},{"f":21.5,"p":0.0037},{"f":25.3,"p":0.0035},{"f":28.5,"p":0.0033},{"f":29.5,"p":0.003},{"f":29.7,"p":0.0006},{"f":50,"p":0.0004}],
"rH":[{"f":0,"p":0.02},{"f":1.3,"p":0.0133},{"f":2.5,"p":0.0068},{"f":3.8,"p":0.0031},{"f":5.1,"p":0.0023},{"f":7,"p":0.0033},{"f":8.9,"p":0.0049},{"f":10.1,"p":0.0033},{"f":11.4,"p":0.0012},{"f":13.9,"p":0.0005},{"f":17.7,"p":0.0003},{"f":29,"p":0.0001},{"f":30,"p":0},{"f":50,"p":0}],
"gJ":[{"f":0,"p":0.0004},{"f":0.9,"p":0.0014},{"f":2,"p":0.0023},{"f":3.3,"p":0.0023},{"f":4.6,"p":0.0022},{"f":5.9,"p":0.0017},{"f":6.9,"p":0.0015},{"f":7.8,"p":0.0017},{"f":9.1,"p":0.0029},{"f":10.4,"p":0.0034},{"f":11.4,"p":0.0033},{"f":13,"p":0.0025},{"f":15,"p":0.0016},{"f":17,"p":0.001},{"f":18.9,"p":0.0006},{"f":20.2,"p":0.0005},{"f":22.2,"p":0.0008},{"f":24.2,"p":0.0012},{"f":26.1,"p":0.0018},{"f":27.8,"p":0.0027},{"f":28.5,"p":0.0029},{"f":29.1,"p":0.0018},{"f":29.6,"p":0.0004},{"f":32,"p":0.0004},{"f":50,"p":0.00025}],
"rJ":[{"f":0,"p":0.0043},{"f":0.4,"p":0.0092},{"f":0.9,"p":0.0071},{"f":1.7,"p":0.0042},{"f":2.6,"p":0.0021},{"f":3.9,"p":0.0014},{"f":5.2,"p":0.0017},{"f":6.5,"p":0.0033},{"f":7.8,"p":0.0057},{"f":9.1,"p":0.0082},{"f":9.8,"p":0.0085},{"f":10.6,"p":0.008},{"f":11.7,"p":0.0065},{"f":13,"p":0.0052},{"f":14.4,"p":0.0046},{"f":15.7,"p":0.0045},{"f":17,"p":0.005},{"f":18.3,"p":0.006},{"f":19.6,"p":0.0066},{"f":20.9,"p":0.0069},{"f":22.2,"p":0.007},{"f":23.5,"p":0.0066},{"f":24.8,"p":0.005},{"f":26.1,"p":0.0033},{"f":27.4,"p":0.002},{"f":28.7,"p":0.0007},{"f":29.4,"p":0},{"f":50,"p":0}]
},
"vconcat":[
{"spacing":4,"hconcat":[
 {"width":523,"height":165,"resolve":{"axis":{"x":"independent","y":"independent"}},"layer":[
  {"data":{"name":"blk"},"mark":{"type":"line","color":"#2b2b2b","strokeWidth":0.9,"interpolate":"monotone","clip":true},"encoding":{"x":{"field":"t","type":"quantitative","scale":{"domain":[12,14],"nice":false,"zero":false},"axis":{"orient":"bottom","values":[12,13,14],"labelExpr":"datum.value","labelOverlap":false,"labelBound":false,"tickSize":-4,"labelPadding":9,"title":"Time (s)","titlePadding":0.5}},"y":{"field":"v","type":"quantitative","scale":{"domain":[-3,3],"nice":false,"zero":false},"axis":{"orient":"left","values":[-2,-1,0,1,2],"tickSize":-4,"labelPadding":9,"title":null}}}},
  {"data":{"name":"gA"},"mark":{"type":"line","color":"#27d827","strokeWidth":1.4,"interpolate":"monotone","clip":true},"encoding":{"x":{"field":"t","type":"quantitative","axis":{"orient":"top","values":[12,13,14],"labels":false,"tickSize":-4,"title":"A","titleX":-14,"titleY":11,"titleAngle":0,"titleAlign":"left","titleBaseline":"alphabetic","titleFontSize":15,"titleFontWeight":"bold"}},"y":{"field":"v","type":"quantitative","axis":{"orient":"right","values":[-2,-1,0,1,2],"labels":false,"tickSize":-4,"title":null}}}},
  {"data":{"name":"rA"},"mark":{"type":"line","color":"#e3191c","strokeWidth":1.5,"interpolate":"monotone","clip":true},"encoding":{"x":{"field":"t","type":"quantitative","axis":null},"y":{"field":"v","type":"quantitative","axis":null}}}
 ]},
 {"width":130,"height":157,"resolve":{"axis":{"x":"independent","y":"independent"}},"layer":[
  {"data":{"name":"pk"},"mark":{"type":"line","color":"#000","strokeWidth":1.1,"clip":true},"encoding":{"x":{"field":"f","type":"quantitative","scale":{"domain":[0,50],"nice":false},"axis":{"orient":"bottom","values":[0,10,20,30,40,50],"tickSize":-3,"labelPadding":7,"title":"Frequency (Hz)","titlePadding":7}},"y":{"field":"p","type":"quantitative","scale":{"domain":[0,0.05],"nice":false},"axis":{"orient":"left","values":[0,0.01,0.02,0.03,0.04,0.05],"format":"~g","labelFlush":true,"labelFlushOffset":2,"tickSize":-3,"labelPadding":6,"title":"PSD (abs)","titlePadding":2}}}},
  {"data":{"name":"gB"},"mark":{"type":"line","color":"#27d827","strokeWidth":1.3,"clip":true},"encoding":{"x":{"field":"f","type":"quantitative","axis":{"orient":"top","values":[0,10,20,30,40,50],"labels":false,"tickSize":-3,"title":"B","titleX":-41,"titleY":10,"titleAngle":0,"titleAlign":"left","titleBaseline":"alphabetic","titleFontSize":15,"titleFontWeight":"bold"}},"y":{"field":"p","type":"quantitative","axis":{"orient":"right","values":[0,0.01,0.02,0.03,0.04,0.05],"labels":false,"tickSize":-3,"title":null}}}},
  {"data":{"name":"rB"},"mark":{"type":"line","color":"#e3191c","strokeWidth":1.3,"clip":true},"encoding":{"x":{"field":"f","type":"quantitative","axis":null},"y":{"field":"p","type":"quantitative","axis":null}}}
 ]}
]},
{"spacing":4,"hconcat":[
 {"width":523,"height":165,"resolve":{"axis":{"x":"independent","y":"independent"}},"layer":[
  {"data":{"name":"blk"},"mark":{"type":"line","color":"#2b2b2b","strokeWidth":0.9,"interpolate":"monotone","clip":true},"encoding":{"x":{"field":"t","type":"quantitative","scale":{"domain":[12,14],"nice":false,"zero":false},"axis":{"orient":"bottom","values":[12,13,14],"labelExpr":"datum.value","labelOverlap":false,"labelBound":false,"tickSize":-4,"labelPadding":9,"title":"Time (s)","titlePadding":0.5}},"y":{"field":"v","type":"quantitative","scale":{"domain":[-3,3],"nice":false,"zero":false},"axis":{"orient":"left","values":[-2,-1,0,1,2],"tickSize":-4,"labelPadding":9,"title":null}}}},
  {"data":{"name":"gC"},"mark":{"type":"line","color":"#27d827","strokeWidth":1.4,"interpolate":"monotone","clip":true},"encoding":{"x":{"field":"t","type":"quantitative","axis":{"orient":"top","values":[12,13,14],"labels":false,"tickSize":-4,"title":"C","titleX":-14,"titleY":11,"titleAngle":0,"titleAlign":"left","titleBaseline":"alphabetic","titleFontSize":15,"titleFontWeight":"bold"}},"y":{"field":"v","type":"quantitative","axis":{"orient":"right","values":[-2,-1,0,1,2],"labels":false,"tickSize":-4,"title":null}}}},
  {"data":{"name":"rC"},"mark":{"type":"line","color":"#e3191c","strokeWidth":1.5,"interpolate":"monotone","clip":true},"encoding":{"x":{"field":"t","type":"quantitative","axis":null},"y":{"field":"v","type":"quantitative","axis":null}}}
 ]},
 {"width":130,"height":157,"resolve":{"axis":{"x":"independent","y":"independent"}},"layer":[
  {"data":{"name":"pk"},"mark":{"type":"line","color":"#000","strokeWidth":1.1,"clip":true},"encoding":{"x":{"field":"f","type":"quantitative","scale":{"domain":[0,50],"nice":false},"axis":{"orient":"bottom","values":[0,10,20,30,40,50],"tickSize":-3,"labelPadding":7,"title":"Frequency (Hz)","titlePadding":7}},"y":{"field":"p","type":"quantitative","scale":{"domain":[0,0.025],"nice":false},"axis":{"orient":"left","values":[0,0.005,0.01,0.015,0.02,0.025],"format":"~g","labelFlush":true,"labelFlushOffset":2,"tickSize":-3,"labelPadding":6,"title":"PSD (abs)","titlePadding":2}}}},
  {"data":{"name":"gD"},"mark":{"type":"line","color":"#27d827","strokeWidth":1.3,"clip":true},"encoding":{"x":{"field":"f","type":"quantitative","axis":{"orient":"top","values":[0,10,20,30,40,50],"labels":false,"tickSize":-3,"title":"D","titleX":-41,"titleY":10,"titleAngle":0,"titleAlign":"left","titleBaseline":"alphabetic","titleFontSize":15,"titleFontWeight":"bold"}},"y":{"field":"p","type":"quantitative","axis":{"orient":"right","values":[0,0.005,0.01,0.015,0.02,0.025],"labels":false,"tickSize":-3,"title":null}}}},
  {"data":{"name":"rD"},"mark":{"type":"line","color":"#e3191c","strokeWidth":1.3,"clip":true},"encoding":{"x":{"field":"f","type":"quantitative","axis":null},"y":{"field":"p","type":"quantitative","axis":null}}}
 ]}
]},
{"spacing":4,"hconcat":[
 {"width":523,"height":165,"resolve":{"axis":{"x":"independent","y":"independent"}},"layer":[
  {"data":{"name":"blk"},"mark":{"type":"line","color":"#2b2b2b","strokeWidth":0.9,"interpolate":"monotone","clip":true},"encoding":{"x":{"field":"t","type":"quantitative","scale":{"domain":[12,14],"nice":false,"zero":false},"axis":{"orient":"bottom","values":[12,13,14],"labelExpr":"datum.value","labelOverlap":false,"labelBound":false,"tickSize":-4,"labelPadding":9,"title":"Time (s)","titlePadding":0.5}},"y":{"field":"v","type":"quantitative","scale":{"domain":[-3,3],"nice":false,"zero":false},"axis":{"orient":"left","values":[-2,-1,0,1,2],"tickSize":-4,"labelPadding":9,"title":null}}}},
  {"data":{"name":"gE"},"mark":{"type":"line","color":"#27d827","strokeWidth":1.4,"interpolate":"monotone","clip":true},"encoding":{"x":{"field":"t","type":"quantitative","axis":{"orient":"top","values":[12,13,14],"labels":false,"tickSize":-4,"title":"E","titleX":-14,"titleY":11,"titleAngle":0,"titleAlign":"left","titleBaseline":"alphabetic","titleFontSize":15,"titleFontWeight":"bold"}},"y":{"field":"v","type":"quantitative","axis":{"orient":"right","values":[-2,-1,0,1,2],"labels":false,"tickSize":-4,"title":null}}}},
  {"data":{"name":"rE"},"mark":{"type":"line","color":"#e3191c","strokeWidth":1.5,"interpolate":"monotone","clip":true},"encoding":{"x":{"field":"t","type":"quantitative","axis":null},"y":{"field":"v","type":"quantitative","axis":null}}}
 ]},
 {"width":130,"height":157,"resolve":{"axis":{"x":"independent","y":"independent"}},"layer":[
  {"data":{"name":"pk"},"mark":{"type":"line","color":"#000","strokeWidth":1.1,"clip":true},"encoding":{"x":{"field":"f","type":"quantitative","scale":{"domain":[0,50],"nice":false},"axis":{"orient":"bottom","values":[0,10,20,30,40,50],"tickSize":-3,"labelPadding":7,"title":"Frequency (Hz)","titlePadding":7}},"y":{"field":"p","type":"quantitative","scale":{"domain":[0,0.012],"nice":false},"axis":{"orient":"left","values":[0,0.0025,0.005,0.0075,0.01,0.012],"labelExpr":"datum.value==0?'0':datum.value==0.0025?'0.002':datum.value==0.005?'0.005':datum.value==0.0075?'0.007':datum.value==0.01?'0.01':'0.012'","labelFlush":true,"labelFlushOffset":2,"tickSize":-3,"labelPadding":6,"title":"PSD (abs)","titlePadding":2}}}},
  {"data":{"name":"gF"},"mark":{"type":"line","color":"#27d827","strokeWidth":1.3,"clip":true},"encoding":{"x":{"field":"f","type":"quantitative","axis":{"orient":"top","values":[0,10,20,30,40,50],"labels":false,"tickSize":-3,"title":"F","titleX":-41,"titleY":10,"titleAngle":0,"titleAlign":"left","titleBaseline":"alphabetic","titleFontSize":15,"titleFontWeight":"bold"}},"y":{"field":"p","type":"quantitative","axis":{"orient":"right","values":[0,0.0025,0.005,0.0075,0.01,0.012],"labels":false,"tickSize":-3,"title":null}}}},
  {"data":{"name":"rF"},"mark":{"type":"line","color":"#e3191c","strokeWidth":1.3,"clip":true},"encoding":{"x":{"field":"f","type":"quantitative","axis":null},"y":{"field":"p","type":"quantitative","axis":null}}}
 ]}
]},
{"spacing":4,"hconcat":[
 {"width":523,"height":165,"resolve":{"axis":{"x":"independent","y":"independent"}},"layer":[
  {"data":{"name":"blk"},"mark":{"type":"line","color":"#2b2b2b","strokeWidth":0.9,"interpolate":"monotone","clip":true},"encoding":{"x":{"field":"t","type":"quantitative","scale":{"domain":[12,14],"nice":false,"zero":false},"axis":{"orient":"bottom","values":[12,13,14],"labelExpr":"datum.value","labelOverlap":false,"labelBound":false,"tickSize":-4,"labelPadding":9,"title":"Time (s)","titlePadding":0.5}},"y":{"field":"v","type":"quantitative","scale":{"domain":[-3,3],"nice":false,"zero":false},"axis":{"orient":"left","values":[-2,-1,0,1,2],"tickSize":-4,"labelPadding":9,"title":null}}}},
  {"data":{"name":"gG"},"mark":{"type":"line","color":"#27d827","strokeWidth":1.4,"interpolate":"monotone","clip":true},"encoding":{"x":{"field":"t","type":"quantitative","axis":{"orient":"top","values":[12,13,14],"labels":false,"tickSize":-4,"title":"G","titleX":-14,"titleY":11,"titleAngle":0,"titleAlign":"left","titleBaseline":"alphabetic","titleFontSize":15,"titleFontWeight":"bold"}},"y":{"field":"v","type":"quantitative","axis":{"orient":"right","values":[-2,-1,0,1,2],"labels":false,"tickSize":-4,"title":null}}}},
  {"data":{"name":"rG"},"mark":{"type":"line","color":"#e3191c","strokeWidth":1.5,"interpolate":"monotone","clip":true},"encoding":{"x":{"field":"t","type":"quantitative","axis":null},"y":{"field":"v","type":"quantitative","axis":null}}}
 ]},
 {"width":130,"height":157,"resolve":{"axis":{"x":"independent","y":"independent"}},"layer":[
  {"data":{"name":"pk"},"mark":{"type":"line","color":"#000","strokeWidth":1.1,"clip":true},"encoding":{"x":{"field":"f","type":"quantitative","scale":{"domain":[0,50],"nice":false},"axis":{"orient":"bottom","values":[0,10,20,30,40,50],"tickSize":-3,"labelPadding":7,"title":"Frequency (Hz)","titlePadding":7}},"y":{"field":"p","type":"quantitative","scale":{"domain":[0,0.025],"nice":false},"axis":{"orient":"left","values":[0,0.005,0.01,0.015,0.02,0.025],"format":"~g","labelFlush":true,"labelFlushOffset":2,"tickSize":-3,"labelPadding":6,"title":"PSD (abs)","titlePadding":2}}}},
  {"data":{"name":"gH"},"mark":{"type":"line","color":"#27d827","strokeWidth":1.3,"clip":true},"encoding":{"x":{"field":"f","type":"quantitative","axis":{"orient":"top","values":[0,10,20,30,40,50],"labels":false,"tickSize":-3,"title":"H","titleX":-41,"titleY":10,"titleAngle":0,"titleAlign":"left","titleBaseline":"alphabetic","titleFontSize":15,"titleFontWeight":"bold"}},"y":{"field":"p","type":"quantitative","axis":{"orient":"right","values":[0,0.005,0.01,0.015,0.02,0.025],"labels":false,"tickSize":-3,"title":null}}}},
  {"data":{"name":"rH"},"mark":{"type":"line","color":"#e3191c","strokeWidth":1.3,"clip":true},"encoding":{"x":{"field":"f","type":"quantitative","axis":null},"y":{"field":"p","type":"quantitative","axis":null}}}
 ]}
]},
{"spacing":4,"hconcat":[
 {"width":523,"height":165,"resolve":{"axis":{"x":"independent","y":"independent"}},"layer":[
  {"data":{"name":"blk"},"mark":{"type":"line","color":"#2b2b2b","strokeWidth":0.9,"interpolate":"monotone","clip":true},"encoding":{"x":{"field":"t","type":"quantitative","scale":{"domain":[12,14],"nice":false,"zero":false},"axis":{"orient":"bottom","values":[12,13,14],"labelExpr":"datum.value","labelOverlap":false,"labelBound":false,"tickSize":-4,"labelPadding":9,"title":"Time (s)","titlePadding":0.5}},"y":{"field":"v","type":"quantitative","scale":{"domain":[-3,3],"nice":false,"zero":false},"axis":{"orient":"left","values":[-2,-1,0,1,2],"tickSize":-4,"labelPadding":9,"title":null}}}},
  {"data":{"name":"gI"},"mark":{"type":"line","color":"#27d827","strokeWidth":1.4,"interpolate":"monotone","clip":true},"encoding":{"x":{"field":"t","type":"quantitative","axis":{"orient":"top","values":[12,13,14],"labels":false,"tickSize":-4,"title":"I","titleX":-14,"titleY":11,"titleAngle":0,"titleAlign":"left","titleBaseline":"alphabetic","titleFontSize":15,"titleFontWeight":"bold"}},"y":{"field":"v","type":"quantitative","axis":{"orient":"right","values":[-2,-1,0,1,2],"labels":false,"tickSize":-4,"title":null}}}},
  {"data":{"name":"rI"},"mark":{"type":"line","color":"#e3191c","strokeWidth":1.5,"interpolate":"monotone","clip":true},"encoding":{"x":{"field":"t","type":"quantitative","axis":null},"y":{"field":"v","type":"quantitative","axis":null}}}
 ]},
 {"width":130,"height":157,"resolve":{"axis":{"x":"independent","y":"independent"}},"layer":[
  {"data":{"name":"pk"},"mark":{"type":"line","color":"#000","strokeWidth":1.1,"clip":true},"encoding":{"x":{"field":"f","type":"quantitative","scale":{"domain":[0,50],"nice":false},"axis":{"orient":"bottom","values":[0,10,20,30,40,50],"tickSize":-3,"labelPadding":7,"title":"Frequency (Hz)","titlePadding":7}},"y":{"field":"p","type":"quantitative","scale":{"domain":[0,0.01],"nice":false},"axis":{"orient":"left","values":[0,0.002,0.004,0.006,0.008,0.01],"format":"~g","labelFlush":true,"labelFlushOffset":2,"tickSize":-3,"labelPadding":6,"title":"PSD (abs)","titlePadding":2}}}},
  {"data":{"name":"gJ"},"mark":{"type":"line","color":"#27d827","strokeWidth":1.3,"clip":true},"encoding":{"x":{"field":"f","type":"quantitative","axis":{"orient":"top","values":[0,10,20,30,40,50],"labels":false,"tickSize":-3,"title":"J","titleX":-41,"titleY":10,"titleAngle":0,"titleAlign":"left","titleBaseline":"alphabetic","titleFontSize":15,"titleFontWeight":"bold"}},"y":{"field":"p","type":"quantitative","axis":{"orient":"right","values":[0,0.002,0.004,0.006,0.008,0.01],"labels":false,"tickSize":-3,"title":null}}}},
  {"data":{"name":"rJ"},"mark":{"type":"line","color":"#e3191c","strokeWidth":1.3,"clip":true},"encoding":{"x":{"field":"f","type":"quantitative","axis":null},"y":{"field":"p","type":"quantitative","axis":null}}}
 ]}
]}
]
}
